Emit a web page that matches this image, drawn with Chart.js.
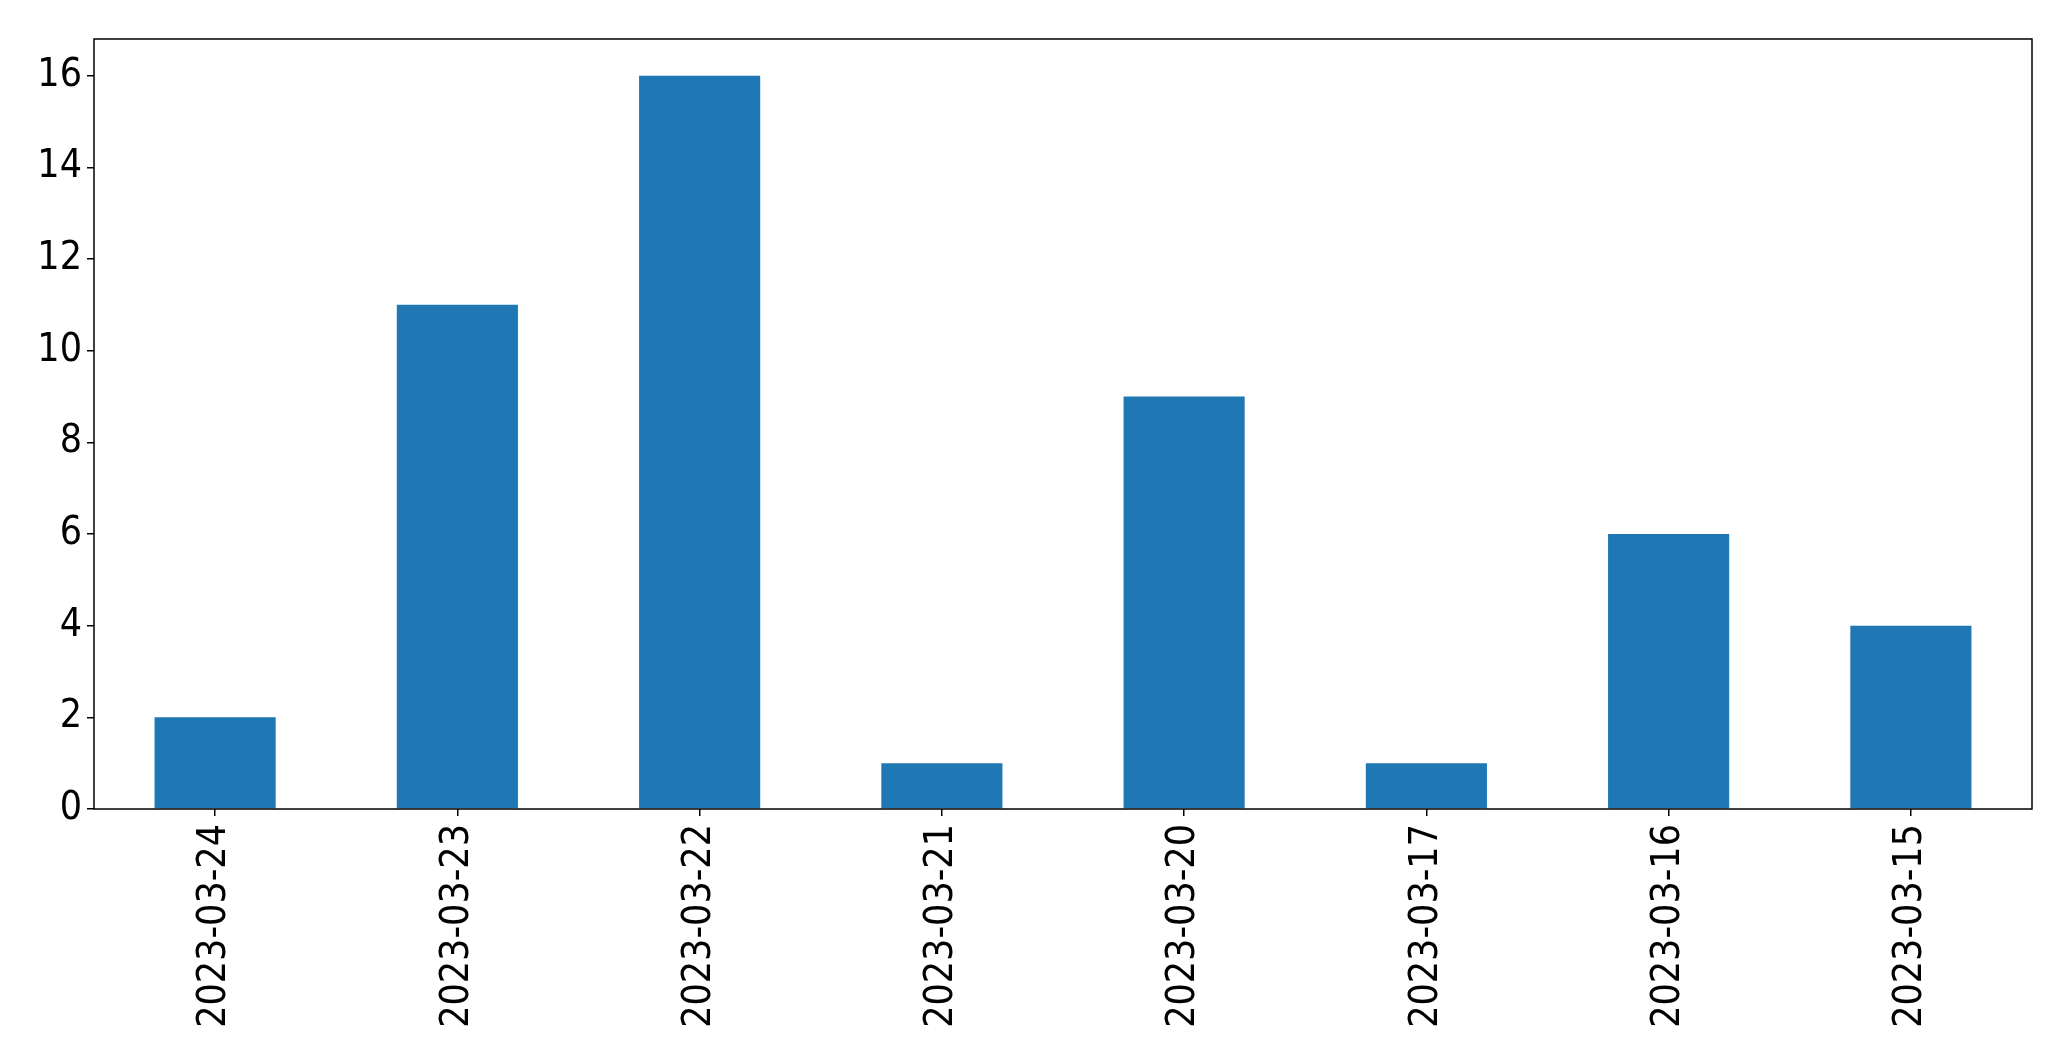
<!DOCTYPE html>
<html>
<head>
<meta charset="utf-8">
<script src="https://cdn.jsdelivr.net/npm/chart.js@4"></script>
<style>
  body { margin: 0; background: #fff; }
</style>
</head>
<body>
<canvas id="chart" width="2071" height="1061"></canvas>
<script>
const dates = ["2023-03-24", "2023-03-23", "2023-03-22", "2023-03-21", "2023-03-20", "2023-03-17", "2023-03-16", "2023-03-15"];
const counts = [2, 11, 16, 1, 9, 1, 6, 4];
const yTicks = [0, 2, 4, 6, 8, 10, 12, 14, 16];

const tickFont = { family: "'DejaVu Sans Condensed', 'DejaVu Sans'", size: 39 };

// draw the box round the plot, like matplotlib
const frame = {
  id: "frame",
  afterDraw(chart) {
    const a = chart.chartArea;
    const ctx = chart.ctx;
    ctx.save();
    ctx.strokeStyle = "#000";
    ctx.lineWidth = 1.5;
    ctx.strokeRect(a.left, a.top, a.right - a.left, a.bottom - a.top);
    ctx.restore();
  }
};

new Chart(document.getElementById("chart").getContext("2d"), {
  type: "bar",
  data: {
    labels: dates,
    datasets: [{
      data: counts,
      backgroundColor: "#1f77b4",
      barPercentage: 0.5,
      categoryPercentage: 1
    }]
  },
  options: {
    responsive: false,
    animation: false,
    layout: { padding: { top: 39, right: 39, left: 0, bottom: 0 } },
    plugins: { legend: { display: false }, tooltip: { enabled: false } },
    scales: {
      x: {
        grid: { display: true, offset: false, drawOnChartArea: false, tickLength: 7, color: "#000", lineWidth: 1.5 },
        border: { display: false },
        ticks: {
          color: "#000",
          font: tickFont,
          autoSkip: false,
          minRotation: 90,
          maxRotation: 90,
          padding: 8
        },
        afterFit(scale) { scale.height = 252; }
      },
      y: {
        min: 0,
        max: 16.8,
        grid: { display: true, drawOnChartArea: false, tickLength: 7, color: "#000", lineWidth: 1.5 },
        border: { display: false },
        ticks: {
          color: "#000",
          font: tickFont,
          padding: 5
        },
        afterBuildTicks(scale) { scale.ticks = yTicks.map(v => ({ value: v })); },
        afterFit(scale) { scale.width = 94; }
      }
    }
  },
  plugins: [frame]
});
</script>
</body>
</html>
